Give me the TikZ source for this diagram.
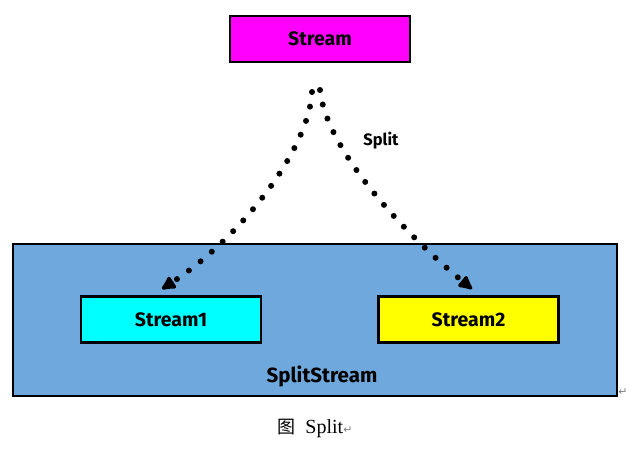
\documentclass[tikz,border=0pt]{standalone}
\usepackage{fontspec}
\setmainfont{Liberation Serif}
\newfontfamily\boxfont{Fira Sans}
\newfontfamily\cjkfont{Noto Sans CJK SC}
\newfontfamily\symfont{DejaVu Sans}
\usetikzlibrary{arrows.meta}
\definecolor{magentabox}{RGB}{255,0,255}
\definecolor{cyanbox}{RGB}{0,255,255}
\definecolor{yellowbox}{RGB}{255,255,0}
\definecolor{bluebg}{RGB}{111,168,220}
\begin{document}
\begin{tikzpicture}[x=1pt,y=-1pt,
  sbox/.style={draw=black,line width=2.6pt,minimum width=180pt,minimum height=46pt,inner sep=0pt,
    font=\boxfont\bfseries\fontsize{19.5}{22}\selectfont},
  dotarrow/.style={line width=6pt,line cap=round,dash pattern=on 0pt off 14.8pt,
    -{Latex[length=17pt,width=17pt,round]}},
  lbl/.style={font=\boxfont\bfseries\fontsize{16.5}{19}\selectfont}]
\useasboundingbox (0,0) rectangle (629,456);
\node[draw=black,line width=2pt,fill=bluebg,minimum width=604pt,minimum height=152pt,inner sep=0pt] (outer) at (315,320) {};
\node[sbox,fill=magentabox] (src) at (320,39) {Stream};
\node[sbox,fill=cyanbox] (s1) at (171,319.5) {Stream1};
\node[sbox,fill=yellowbox] (s2) at (468.5,319.5) {Stream2};
\node[font=\boxfont\bfseries\fontsize{20.5}{23}\selectfont] (ss) at (322,376) {SplitStream};
\coordinate (a1) at (312,92);
\coordinate (a2) at (320,90);
\coordinate (t1) at (162,289);
\coordinate (t2) at (472,289);
\draw[dotarrow] (a1) .. controls (309,148) and (243,236) .. (t1);
\draw[dotarrow] (a2) .. controls (326,148) and (400,230) .. (t2);
\node[lbl] (split) at (381,141) {Split};
\node[font=\fontsize{20}{23}\selectfont] (cap) at (315,428) {{\cjkfont\fontsize{18}{20}\selectfont 图}\hspace{10pt}Split{\symfont\fontsize{11}{12}\selectfont\color{gray}↵}};
\node[font=\symfont\fontsize{11}{12}\selectfont,text=gray] (pm) at (623,392) {↵};
\end{tikzpicture}
\end{document}
